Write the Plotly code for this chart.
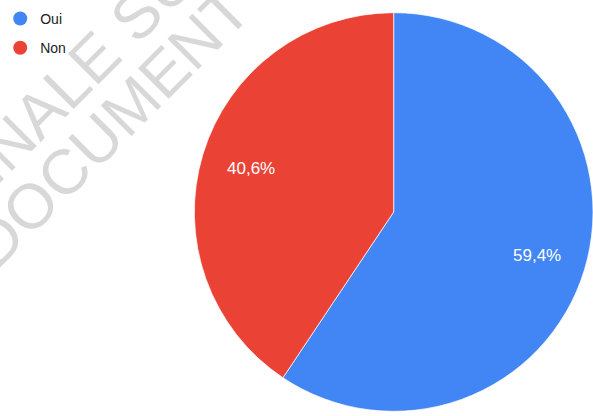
import math
import plotly.graph_objects as go

labels = ["Oui", "Non"]
counts = [19, 13]
colors = ["#4285F4", "#EA4335"]

watermark_lines = ["FINALE SUJET", "DOCUMENT SUJET"]

# pie geometry in pixels (hidden axes map 1:1 to pixels)
cx, cy, r = 393, 212, 200
W, H = 593, 416

fig = go.Figure()

fig.add_trace(
    go.Pie(
        labels=labels,
        values=counts,
        sort=False,
        direction="clockwise",
        rotation=0,
        marker=dict(colors=colors, line=dict(color="white", width=0.7)),
        textinfo="none",
        domain=dict(x=[(cx - r) / W, (cx + r) / W], y=[1 - (cy + r) / H, 1 - (cy - r) / H]),
        hoverinfo="label+percent",
        showlegend=False,
    )
)

# percentage labels at 3/4 of the radius, on each slice's middle angle
total = sum(counts)
start = 0.0
for n in counts:
    frac = n / total
    mid = 2 * math.pi * (start + frac / 2)
    fig.add_annotation(
        x=cx + 0.75 * r * math.sin(mid),
        y=cy - 0.75 * r * math.cos(mid),
        xref="x", yref="y", showarrow=False,
        text=f"{frac * 100:.1f}%".replace(".", ","),
        font=dict(family="Liberation Sans, Arial", size=17, color="white"),
    )
    start += frac

# legend entries with round markers, like the original
for name, color in zip(labels, colors):
    fig.add_trace(
        go.Scatter(
            x=[None],
            y=[None],
            mode="markers",
            name=name,
            legendgroup=name,
            marker=dict(color=color, size=14, symbol="circle"),
        )
    )

# faint diagonal watermark
for text, (wx, wy) in zip(watermark_lines, [(106, 44), (185, 50)]):
    fig.add_annotation(
        x=wx, y=wy, xref="x", yref="y", text=text, showarrow=False,
        textangle=-45,
        font=dict(family="Liberation Sans, Arial", size=63, color="#d8d8d8"),
    )

fig.update_xaxes(visible=False, range=[0, W], domain=[0, 1])
fig.update_yaxes(visible=False, range=[H, 0], domain=[0, 1])

fig.update_layout(
    width=W,
    height=H,
    margin=dict(l=0, r=0, t=0, b=0),
    paper_bgcolor="white",
    plot_bgcolor="rgba(0,0,0,0)",
    font=dict(family="Liberation Sans, Arial", size=14, color="#222222"),
    legend=dict(
        x=-0.003, y=0.993, xanchor="left", yanchor="top",
        traceorder="grouped", tracegroupgap=8,
        bgcolor="rgba(0,0,0,0)",
    ),
)

fig.write_html(
    "out.html",
    config={"displayModeBar": False},
    post_script="document.body.style.margin='0';",
)
